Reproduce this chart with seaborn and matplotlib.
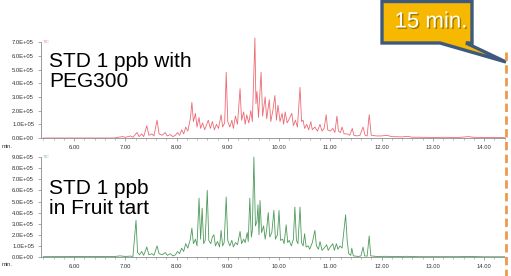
import numpy as np
import pandas as pd
import matplotlib
matplotlib.use("Agg")
import matplotlib.pyplot as plt
import matplotlib.patheffects as pe
from matplotlib.patches import Polygon
from matplotlib.lines import Line2D
from matplotlib.ticker import FuncFormatter, MultipleLocator, FixedLocator
import seaborn as sns

# ---------------- data (intensity in units of 1e5 counts) ----------------
peg_time = [5.40, 6.80, 6.85, 6.95, 7.00, 7.10, 7.15, 7.23, 7.27, 7.32, 7.36, 7.42, 7.46, 7.52, 7.56,
            7.62, 7.66, 7.72, 7.78, 7.82, 7.88, 7.93, 7.98, 8.02, 8.06, 8.10, 8.14, 8.18, 8.22, 8.27,
            8.30, 8.33, 8.37, 8.40, 8.44, 8.47, 8.51, 8.55, 8.59, 8.62, 8.66, 8.70, 8.74, 8.78, 8.82,
            8.87, 8.90, 8.94, 8.97, 9.00, 9.04, 9.08, 9.11, 9.15, 9.19, 9.24, 9.27, 9.31, 9.34, 9.37,
            9.41, 9.45, 9.48, 9.53, 9.55, 9.57, 9.60, 9.65, 9.68, 9.73, 9.76, 9.81, 9.84, 9.88, 9.92,
            9.95, 9.98, 10.02, 10.06, 10.09, 10.12, 10.16, 10.20, 10.25, 10.28, 10.32, 10.36, 10.41, 10.44, 10.47,
            10.50, 10.54, 10.58, 10.62, 10.65, 10.70, 10.75, 10.80, 10.84, 10.88, 10.92, 10.95, 11.00, 11.05, 11.09,
            11.13, 11.16, 11.20, 11.23, 11.27, 11.33, 11.38, 11.43, 11.46, 11.52, 11.58, 11.64, 11.68, 11.72, 11.76,
            11.80, 11.90, 12.00, 12.10, 12.20, 12.40, 12.50, 12.60, 12.80, 13.00, 13.20, 13.50, 13.70, 13.80, 14.10,
            14.41]
peg_int = [0.0, 0.0, 0.05, 0.1, 0.05, 0.15, 0.05, 0.4, 0.1, 0.3, 0.1, 0.9, 0.2, 0.3, 0.15,
           1.3, 0.3, 0.2, 0.4, 0.15, 0.25, 0.1, 0.2, 0.4, 0.2, 0.6, 0.3, 0.8, 0.5, 1.4,
           2.6, 1.2, 1.8, 0.8, 1.5, 0.7, 1.1, 0.6, 1.0, 1.3, 0.7, 1.2, 0.6, 1.0, 0.7,
           1.7, 0.8, 1.1, 4.8, 1.2, 0.8, 1.3, 0.7, 1.6, 1.0, 3.6, 1.3, 1.9, 1.0, 1.7,
           1.1, 2.0, 1.2, 7.3, 2.5, 3.4, 1.5, 4.8, 1.6, 3.0, 1.4, 2.8, 1.2, 2.0, 3.1,
           1.3, 2.4, 1.2, 1.8, 1.0, 1.9, 1.1, 1.4, 1.8, 0.9, 1.3, 0.8, 3.7, 1.2, 1.3,
           0.7, 1.0, 0.6, 1.2, 0.6, 0.8, 0.5, 1.0, 0.5, 0.7, 1.7, 0.6, 0.5, 0.7, 0.4,
           1.6, 0.5, 0.4, 0.8, 0.3, 0.3, 0.2, 0.7, 0.2, 0.15, 0.2, 0.8, 0.2, 0.15, 1.7,
           0.2, 0.15, 0.15, 0.2, 0.1, 0.08, 0.12, 0.06, 0.05, 0.04, 0.05, 0.04, 0.1, 0.05, 0.03,
           0.03]

tart_time = [5.40, 6.80, 6.90, 7.00, 7.10, 7.15, 7.21, 7.24, 7.28, 7.32, 7.36, 7.42, 7.46, 7.52, 7.56,
             7.62, 7.66, 7.72, 7.78, 7.82, 7.88, 7.93, 7.98, 8.02, 8.06, 8.10, 8.14, 8.18, 8.22, 8.27,
             8.30, 8.33, 8.37, 8.40, 8.44, 8.47, 8.50, 8.53, 8.56, 8.60, 8.63, 8.67, 8.70, 8.73, 8.76,
             8.80, 8.84, 8.87, 8.90, 8.93, 8.97, 9.00, 9.04, 9.08, 9.11, 9.15, 9.19, 9.24, 9.27, 9.31,
             9.34, 9.38, 9.40, 9.43, 9.46, 9.48, 9.51, 9.54, 9.57, 9.59, 9.61, 9.63, 9.66, 9.70, 9.73,
             9.76, 9.79, 9.82, 9.86, 9.90, 9.93, 9.97, 10.00, 10.03, 10.07, 10.10, 10.14, 10.17, 10.20, 10.24,
             10.28, 10.31, 10.34, 10.37, 10.41, 10.44, 10.47, 10.50, 10.53, 10.57, 10.60, 10.65, 10.70, 10.73, 10.77,
             10.80, 10.84, 10.88, 10.93, 10.96, 11.00, 11.05, 11.08, 11.12, 11.15, 11.19, 11.23, 11.27, 11.30, 11.33,
             11.36, 11.40, 11.42, 11.45, 11.55, 11.60, 11.64, 11.67, 11.72, 11.76, 11.79, 11.90, 12.10, 12.30, 12.50,
             12.70, 13.00, 13.50, 13.70, 14.00, 14.41]
tart_int = [0.03, 0.05, 0.1, 0.05, 0.08, 0.05, 3.3, 0.4, 0.2, 0.5, 0.15, 0.9, 0.2, 0.3, 0.15,
            1.0, 0.3, 0.2, 0.4, 0.15, 0.3, 0.1, 0.2, 0.5, 0.3, 0.8, 0.5, 1.2, 0.8, 1.6,
            2.6, 1.2, 1.6, 1.0, 5.3, 1.6, 4.4, 1.2, 1.5, 6.0, 1.5, 1.2, 1.8, 2.0, 1.0,
            1.4, 0.9, 2.4, 1.0, 1.3, 5.4, 1.5, 1.0, 1.5, 0.9, 1.3, 1.1, 2.3, 1.2, 1.6,
            1.3, 2.2, 1.4, 5.3, 1.8, 2.4, 9.0, 2.8, 3.2, 4.7, 2.0, 5.1, 2.2, 2.8, 1.6,
            2.5, 4.0, 1.8, 2.2, 4.2, 1.6, 2.0, 4.2, 1.5, 1.6, 1.2, 2.9, 1.3, 1.5, 1.0,
            1.6, 4.5, 1.5, 1.2, 4.5, 1.3, 1.0, 2.1, 0.9, 1.0, 0.7, 1.3, 2.4, 1.0, 0.7,
            1.4, 0.6, 0.8, 1.1, 0.6, 0.9, 1.2, 0.6, 1.2, 0.7, 1.0, 0.8, 2.5, 3.8, 1.5,
            0.3, 0.15, 0.8, 0.1, 0.05, 0.1, 0.9, 0.1, 0.08, 1.9, 0.1, 0.05, 0.06, 0.04, 0.06,
            0.03, 0.03, 0.03, 0.05, 0.02, 0.02]

x_ticks = [6, 7, 8, 9, 10, 11, 12, 13, 14]
top_yticks = [0, 1, 2, 3, 4, 5, 6, 7]
bot_yticks = [0, 1, 2, 3, 4, 5, 6, 7, 8, 9]
top_label = "STD 1 ppb with\nPEG300"
bot_label = "STD 1 ppb\nin Fruit tart"
callout_text = "15 min."

# ---------------- style ----------------
sns.set_theme(style="white")
plt.rcParams["font.family"] = ["Liberation Sans", "DejaVu Sans"]

W, H = 511, 276
fig = plt.figure(figsize=(W / 100, H / 100), dpi=100)
fig.patch.set_facecolor("white")

def fx(px):
    return px / W

def fy(py):
    return 1 - py / H

x0, x1 = 41, 505
t_left = 6 + (x0 - 74) / 51.25
t_right = 6 + (x1 - 74) / 51.25

panels = [
    dict(t=peg_time, y=peg_int, color="#EC6A74", zero=138, top=7.5, ppu=13.7,
         yticks=top_yticks, label=top_label, label_y=52, tic_color="#F08A90"),
    dict(t=tart_time, y=tart_int, color="#4E9A5C", zero=257, top=9.3, ppu=11.1,
         yticks=bot_yticks, label=bot_label, label_y=179, tic_color="#8CC090"),
]

tick_font = ["Liberation Sans Narrow", "Liberation Sans", "DejaVu Sans"]
sci = FuncFormatter(lambda v, p: f"{v:.1E}")

for p in panels:
    top_px = p["zero"] - p["top"] * p["ppu"]
    ax = fig.add_axes([fx(x0), fy(p["zero"]), fx(x1) - fx(x0), (p["zero"] - top_px) / H])
    df = pd.DataFrame({"time": p["t"], "intensity": np.array(p["y"]) * 1e5})
    sns.lineplot(data=df, x="time", y="intensity", ax=ax, color=p["color"],
                 linewidth=0.6, sort=False, estimator=None)
    ax.set_xlim(t_left, t_right)
    ax.set_ylim(0, p["top"] * 1e5)
    ax.set_xlabel("")
    ax.set_ylabel("")
    ax.set_facecolor("none")
    for s in ["top", "right"]:
        ax.spines[s].set_visible(False)
    for s in ["left", "bottom"]:
        ax.spines[s].set_color("#8a8a8a")
        ax.spines[s].set_linewidth(0.6)
    ax.spines["left"].set_bounds(0, max(p["yticks"]) * 1e5)
    ax.xaxis.set_major_locator(FixedLocator(x_ticks))
    ax.xaxis.set_minor_locator(MultipleLocator(0.2))
    ax.set_xticklabels([f"{v:.2f}" for v in x_ticks])
    ax.yaxis.set_major_locator(FixedLocator([v * 1e5 for v in p["yticks"]]))
    ax.yaxis.set_major_formatter(sci)
    ax.tick_params(axis="both", which="major", direction="out", length=2, width=0.5,
                   color="#8a8a8a", labelsize=4.2, labelcolor="#333333", pad=3,
                   bottom=True, left=True)
    ax.tick_params(axis="x", which="minor", direction="out", length=1.2, width=0.4,
                   color="#8a8a8a", bottom=True)
    for lab in ax.get_xticklabels() + ax.get_yticklabels():
        lab.set_fontfamily(tick_font)
    # "min." axis label and TIC tag
    fig.text(fx(2), fy(p["zero"] + 8), "min.", fontsize=4.2, color="#333333",
             family=tick_font, va="center", ha="left")
    fig.text(fx(43), fy(p["zero"] - max(p["yticks"]) * p["ppu"]), "TIC", fontsize=3.2,
             color=p["tic_color"], family=tick_font, va="center", ha="left")
    # sample label
    fig.text(fx(49), fy(p["label_y"]), p["label"], fontsize=15, color="black",
             va="top", ha="left", linespacing=1.05)

# dashed 15 min marker
fig.add_artist(Line2D([fx(506), fx(506)], [fy(52), fy(276)], color="#EE9A4D",
                      linewidth=2, dashes=(3, 1.6)))

# callout box with pointer
pts = [(382, 1.5), (472, 1.5), (472, 43), (466, 43), (506, 62), (440, 43), (382, 43)]
callout = Polygon([(fx(a), fy(b)) for a, b in pts], closed=True, facecolor="#F6B800",
                  edgecolor="#3D5A7E", linewidth=2.4, joinstyle="miter",
                  transform=fig.transFigure)
fig.add_artist(callout)
fig.text(fx(431), fy(22), callout_text, fontsize=16, color="white", ha="center",
         va="center",
         path_effects=[pe.withSimplePatchShadow(offset=(1, -1), shadow_rgbFace="#6b5000",
                                                alpha=0.6)])

fig.savefig("out.png", dpi=100)
